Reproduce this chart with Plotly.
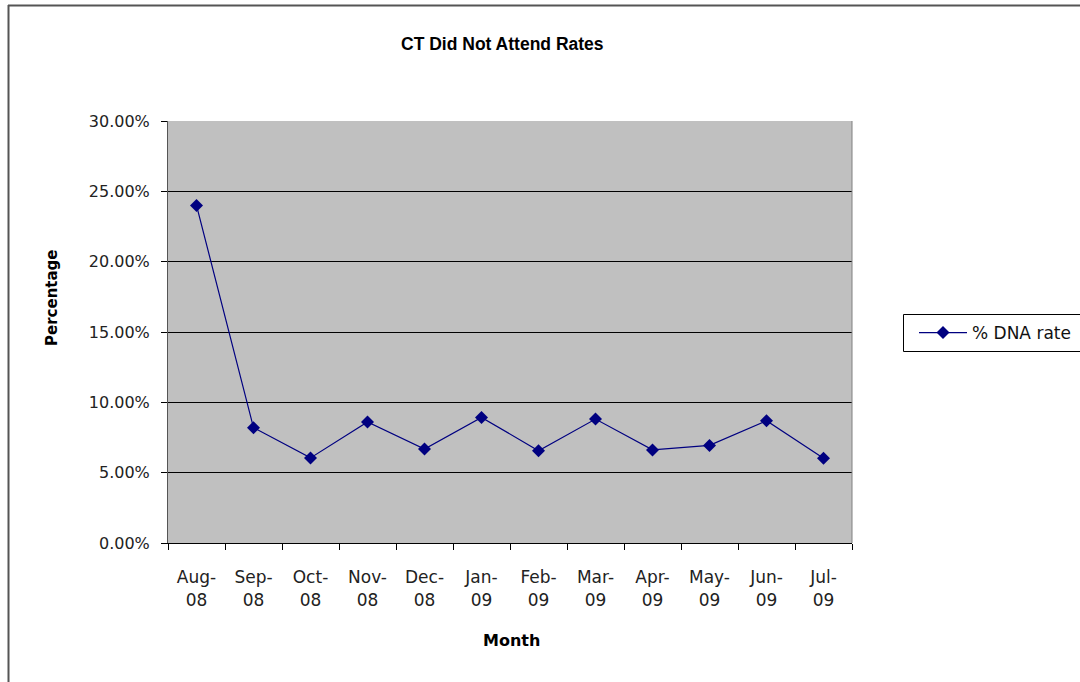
import plotly.graph_objects as go

months = ["Aug-<br>08", "Sep-<br>08", "Oct-<br>08", "Nov-<br>08", "Dec-<br>08", "Jan-<br>09",
          "Feb-<br>09", "Mar-<br>09", "Apr-<br>09", "May-<br>09", "Jun-<br>09", "Jul-<br>09"]
dna_rate = [0.240, 0.082, 0.0605, 0.086, 0.0668, 0.0893, 0.0656, 0.0881, 0.0662, 0.0694, 0.0869, 0.0602]
series_name = "% DNA rate"

W, H = 1080, 682
L, R, T, B = 168, 852, 121, 543

fig = go.Figure()
fig.add_trace(go.Scatter(
    x=months, y=dna_rate, name=series_name, mode="lines+markers",
    line=dict(color="#000080", width=1.2),
    marker=dict(symbol="diamond", size=10, color="#000080"),
))

font = "DejaVu Sans, Verdana, sans-serif"
title_font = "Liberation Sans, Arial, sans-serif"

def px_x(p):
    return (p - L) / (R - L)

def px_y(p):
    return (B - p) / (B - T)

fig.update_layout(
    width=W, height=H,
    margin=dict(l=L, r=W - R, t=T, b=H - B, autoexpand=False),
    paper_bgcolor="white", plot_bgcolor="#C0C0C0",
    font=dict(family=font, size=16, color="#000000"),
    showlegend=True,
    legend=dict(x=px_x(914), y=px_y(333), xanchor="left", yanchor="middle",
                borderwidth=0, bgcolor="rgba(0,0,0,0)", itemwidth=48,
                font=dict(family=font, size=17, color="#111111")),
    xaxis=dict(type="category", tickson="boundaries", ticks="outside", ticklen=6,
               tickcolor="#000000", showline=True, linecolor="#000000", linewidth=1,
               showgrid=False, tickfont=dict(family=font, size=17, color="#222222"),
               ticklabelstandoff=19,
               range=[-0.5, 11.5], fixedrange=True),
    yaxis=dict(range=[0, 0.30], dtick=0.05, tickformat=".2%", ticks="outside", ticklen=6,
               tickcolor="#000000", showline=True, linecolor="#555555", linewidth=1,
               showgrid=True, gridcolor="#000000", gridwidth=1, zeroline=False,
               tickfont=dict(family=font, size=16, color="#222222"),
               ticklabelstandoff=8, fixedrange=True),
    shapes=[
        dict(type="line", xref="paper", yref="paper", x0=px_x(8), x1=px_x(1080),
             y0=px_y(5.5), y1=px_y(5.5), line=dict(color="#555555", width=2)),
        dict(type="line", xref="paper", yref="paper", x0=px_x(8.5), x1=px_x(8.5),
             y0=px_y(5), y1=px_y(682), line=dict(color="#555555", width=2)),
        dict(type="line", xref="paper", yref="paper", x0=1, x1=1,
             y0=0, y1=1, line=dict(color="#808080", width=1)),
        dict(type="rect", xref="paper", yref="paper", x0=px_x(903.5), x1=px_x(1090),
             y0=px_y(314.5), y1=px_y(351.5), line=dict(color="#000000", width=1)),
    ],
    annotations=[
        dict(text="<b>CT Did Not Attend Rates</b>", xref="paper", yref="paper",
             x=px_x(502), y=px_y(44), xanchor="center", yanchor="middle",
             showarrow=False, font=dict(family=title_font, size=17.5)),
        dict(text="<b>Percentage</b>", xref="paper", yref="paper",
             x=px_x(52), y=px_y(298), xanchor="center", yanchor="middle",
             textangle=-90, showarrow=False, font=dict(family=font, size=15)),
        dict(text="<b>Month</b>", xref="paper", yref="paper",
             x=px_x(511), y=px_y(640), xanchor="center", yanchor="middle",
             showarrow=False, font=dict(family=font, size=16)),
    ],
)

fig.write_html("out.html")
